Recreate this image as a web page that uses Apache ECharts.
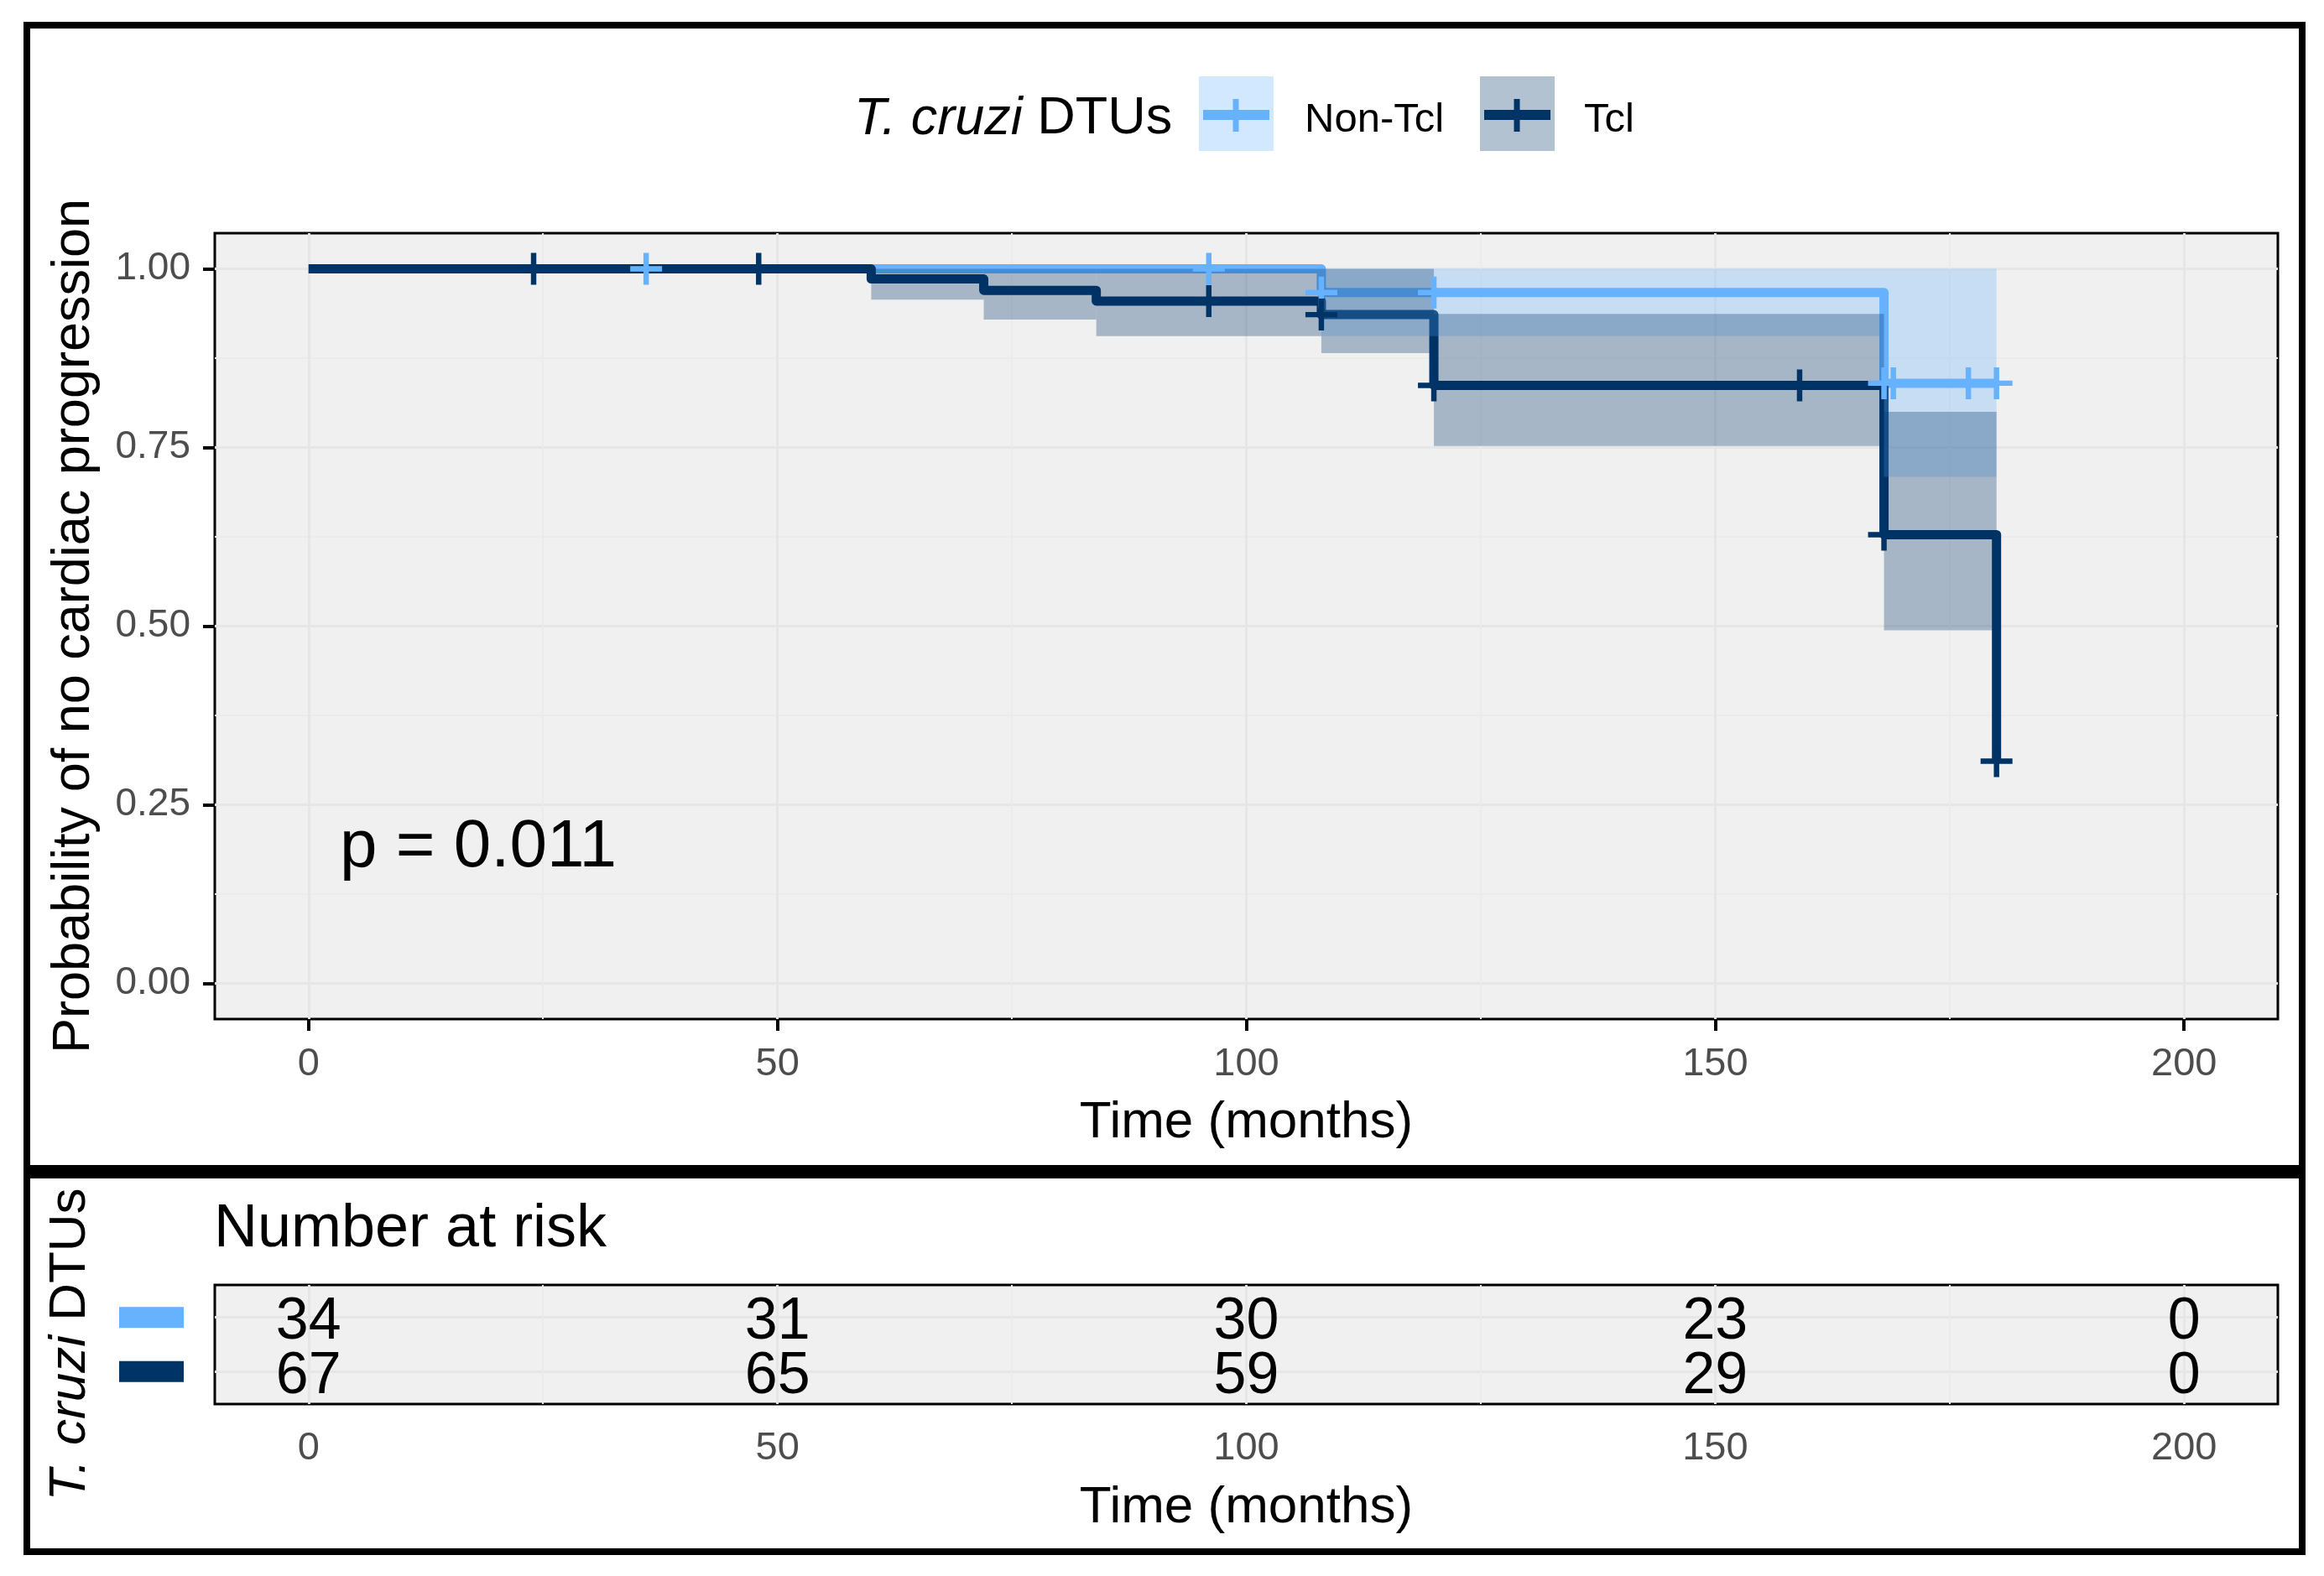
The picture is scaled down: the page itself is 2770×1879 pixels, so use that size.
<!DOCTYPE html>
<html><head><meta charset="utf-8">
<script src="https://cdn.jsdelivr.net/npm/echarts@6/dist/echarts.min.js"></script>
<style>html,body{margin:0;padding:0;background:#fff}#c{width:2770px;height:1879px}</style>
</head><body><div id="c"></div>
<script>
// ---------- data ----------
const groups = ['Non-Tcl', 'Tcl'];
const groupColors = ['#66B2FF', '#003366'];
// Kaplan-Meier step points [time (months), survival]
const nonTclCurve = [[0, 1], [108, 0.967], [168, 0.840], [180, 0.840]];
const tclCurve = [[0, 1], [60, 0.986], [72, 0.970], [84, 0.955], [108, 0.936], [120, 0.837], [168, 0.628], [180, 0.311]];
// censored observations [time, survival]
const nonTclCensor = [[36, 1], [96, 1], [108, 0.967], [120, 0.967], [168, 0.840], [169, 0.840], [177, 0.840], [180, 0.840]];
const tclCensor = [[24, 1], [48, 1], [96, 0.955], [108, 0.936], [120, 0.837], [159, 0.837], [168, 0.628], [180, 0.311]];
// confidence bands [start, end, lower, upper]
const nonTclBand = [[108, 168, 0.906, 1], [168, 180, 0.709, 1]];
const tclBand = [[60, 72, 0.957, 1], [72, 84, 0.929, 1], [84, 108, 0.906, 1], [108, 120, 0.882, 1], [120, 168, 0.752, 0.937], [168, 180, 0.494, 0.800]];
// number at risk
const riskTimes = [0, 50, 100, 150, 200];
const nonTclRisk = [34, 31, 30, 23, 0];
const tclRisk = [67, 65, 59, 29, 0];
// ticks
const xTicks = [0, 50, 100, 150, 200];
const xMinorTicks = [25, 75, 125, 175];
const yTicks = [0, 0.25, 0.5, 0.75, 1];
const yMinorTicks = [0.125, 0.375, 0.625, 0.875];
const riskRows = [1, 2];
const pValueText = 'p = 0.011';

// ---------- styling ----------
const FONT = 'Liberation Sans, Arial, Helvetica, sans-serif';
const bandColors = ['rgba(102,178,255,0.3)', 'rgba(0,51,102,0.3)'];
const keyFill = ['#d1e8ff', '#b3c2d1'];
const majorGrid = { color: '#e6e6e6', width: 3 };
const minorGrid = { color: '#ebebeb', width: 2 };

function bandRender(color) {
  return function (params, api) {
    const p0 = api.coord([api.value(0), api.value(3)]);
    const p1 = api.coord([api.value(1), api.value(2)]);
    return { type: 'rect', shape: { x: p0[0], y: p0[1], width: p1[0] - p0[0], height: p1[1] - p0[1] }, style: { fill: color } };
  };
}
function riskRender(params, api) {
  const p = api.coord([api.value(0), api.value(1)]);
  return { type: 'text', x: p[0], y: p[1] + 6, style: { text: String(api.value(2)), fontSize: 70, fontFamily: FONT, fill: '#000', align: 'center', verticalAlign: 'middle' } };
}
const plusPath = 'path://M41.5,0H58.5V41.5H100V58.5H58.5V100H41.5V58.5H0V41.5H41.5Z';

const riskData = [];
riskTimes.forEach((t, i) => { riskData.push([t, riskRows[0], nonTclRisk[i]]); riskData.push([t, riskRows[1], tclRisk[i]]); });

function majorX(grid, withTicks, name, gap, margin) {
  return {
    gridIndex: grid, type: 'value', min: -10, max: 210, position: 'bottom',
    axisLine: { show: false, onZero: false },
    axisTick: { show: withTicks, customValues: xTicks, length: 14, lineStyle: { color: '#000', width: 4 } },
    axisLabel: { customValues: xTicks, margin: margin, fontSize: 47, color: '#4d4d4d', fontFamily: FONT },
    splitLine: { show: true, lineStyle: majorGrid },
    name: name, nameLocation: 'middle', nameGap: gap,
    nameTextStyle: { fontSize: 62, color: '#000', fontFamily: FONT }
  };
}
function minorX(grid) {
  return {
    gridIndex: grid, type: 'value', min: -10, max: 210, position: 'bottom',
    axisLine: { show: false, onZero: false }, axisTick: { show: false, customValues: xMinorTicks }, axisLabel: { show: false },
    splitLine: { show: true, lineStyle: minorGrid }
  };
}

const option = {
  animation: false,
  backgroundColor: '#ffffff',
  grid: [
    { left: 256, top: 278, width: 2459, height: 937, show: true, backgroundColor: '#f0f0f0', borderColor: '#000', borderWidth: 3 },
    { left: 256, top: 1532, width: 2459, height: 142, show: true, backgroundColor: '#f0f0f0', borderColor: '#000', borderWidth: 3 }
  ],
  xAxis: [majorX(0, true, 'Time (months)', 93, 31), minorX(0), majorX(1, false, 'Time (months)', 93, 30), minorX(1)],
  yAxis: [
    {
      gridIndex: 0, type: 'value', min: -0.05, max: 1.05, position: 'left',
      axisLine: { show: false, onZero: false },
      axisTick: { show: true, customValues: yTicks, length: 14, lineStyle: { color: '#000', width: 4 } },
      axisLabel: { customValues: yTicks, formatter: v => Number(v).toFixed(2), margin: 29, padding: [7, 0, 0, 0], fontSize: 46, color: '#4d4d4d', fontFamily: FONT },
      splitLine: { show: true, lineStyle: majorGrid },
      name: 'Probability of no cardiac progression', nameLocation: 'middle', nameRotate: 90, nameGap: 136,
      nameTextStyle: { fontSize: 63, color: '#000', fontFamily: FONT }
    },
    {
      gridIndex: 0, type: 'value', min: -0.05, max: 1.05, position: 'left',
      axisLine: { show: false, onZero: false }, axisTick: { show: false, customValues: yMinorTicks }, axisLabel: { show: false },
      splitLine: { show: true, lineStyle: minorGrid }
    },
    {
      gridIndex: 1, type: 'value', min: 0.4, max: 2.6, inverse: true, position: 'left',
      axisLine: { show: false, onZero: false },
      axisTick: { show: false, customValues: riskRows },
      axisLabel: {
        customValues: riskRows, margin: 37,
        formatter: v => (Number(v) === riskRows[0] ? '{a| }' : '{b| }'),
        rich: {
          a: { width: 77, height: 25, backgroundColor: groupColors[0] },
          b: { width: 77, height: 25, backgroundColor: groupColors[1] }
        }
      },
      splitLine: { show: true, lineStyle: majorGrid },
      name: '{i|T. cruzi} DTUs', nameLocation: 'middle', nameRotate: 90, nameGap: 141,
      nameTextStyle: { fontSize: 62, color: '#000', fontFamily: FONT, rich: { i: { fontStyle: 'italic', fontSize: 62, color: '#000', fontFamily: FONT } } }
    }
  ],
  series: [
    { name: groups[0], type: 'line', xAxisIndex: 0, yAxisIndex: 0, step: 'end', data: nonTclCurve, symbol: 'none', z: 2,
      lineStyle: { color: groupColors[0], width: 11, join: 'round' } },
    { name: groups[1], type: 'line', xAxisIndex: 0, yAxisIndex: 0, step: 'end', data: tclCurve, symbol: 'none', z: 3,
      lineStyle: { color: groupColors[1], width: 11, join: 'round' } },
    { name: groups[0] + ' CI', type: 'custom', xAxisIndex: 0, yAxisIndex: 0, data: nonTclBand, renderItem: bandRender(bandColors[0]),
      encode: { x: [0, 1], y: [2, 3] }, z: 4, silent: true },
    { name: groups[1] + ' CI', type: 'custom', xAxisIndex: 0, yAxisIndex: 0, data: tclBand, renderItem: bandRender(bandColors[1]),
      encode: { x: [0, 1], y: [2, 3] }, z: 5, silent: true },
    { name: groups[0] + ' censored', type: 'scatter', xAxisIndex: 0, yAxisIndex: 0, data: nonTclCensor, symbol: plusPath, symbolSize: 38,
      itemStyle: { color: groupColors[0], opacity: 1 }, z: 6 },
    { name: groups[1] + ' censored', type: 'scatter', xAxisIndex: 0, yAxisIndex: 0, data: tclCensor, symbol: plusPath, symbolSize: 38,
      itemStyle: { color: groupColors[1], opacity: 1 }, z: 7 },
    { name: 'Number at risk', type: 'custom', xAxisIndex: 2, yAxisIndex: 2, data: riskData, renderItem: riskRender,
      encode: { x: 0, y: 1 }, z: 5 }
  ],
  graphic: [
    { type: 'rect', z: 100, shape: { x: 32, y: 30, width: 2712, height: 1363 }, style: { fill: 'none', stroke: '#000', lineWidth: 8 } },
    { type: 'rect', z: 100, shape: { x: 32, y: 1401, width: 2712, height: 449 }, style: { fill: 'none', stroke: '#000', lineWidth: 8 } },
    { type: 'text', z: 100, x: 405, y: 1011, style: { text: pValueText, fontSize: 80, fontFamily: FONT, fill: '#000', align: 'left', verticalAlign: 'middle' } },
    { type: 'text', z: 100, x: 255, y: 1466, style: { text: 'Number at risk', fontSize: 72, fontFamily: FONT, fill: '#000', align: 'left', verticalAlign: 'middle' } },
    // legend
    { type: 'text', z: 100, x: 1018, y: 142, style: { text: '{i|T. cruzi} DTUs', fontSize: 63, fontFamily: FONT, fill: '#000', align: 'left', verticalAlign: 'middle',
      rich: { i: { fontStyle: 'italic', fontSize: 63, fontFamily: FONT, fill: '#000' } } } },
    { type: 'rect', z: 100, shape: { x: 1429, y: 91, width: 89, height: 89 }, style: { fill: keyFill[0] } },
    { type: 'line', z: 101, shape: { x1: 1434, y1: 137, x2: 1513, y2: 137 }, style: { stroke: groupColors[0], lineWidth: 12 } },
    { type: 'line', z: 101, shape: { x1: 1473, y1: 118, x2: 1473, y2: 157 }, style: { stroke: groupColors[0], lineWidth: 7 } },
    { type: 'text', z: 100, x: 1555, y: 143, style: { text: groups[0], fontSize: 49, fontFamily: FONT, fill: '#000', align: 'left', verticalAlign: 'middle' } },
    { type: 'rect', z: 100, shape: { x: 1764, y: 91, width: 89, height: 89 }, style: { fill: keyFill[1] } },
    { type: 'line', z: 101, shape: { x1: 1769, y1: 137, x2: 1848, y2: 137 }, style: { stroke: groupColors[1], lineWidth: 12 } },
    { type: 'line', z: 101, shape: { x1: 1808, y1: 118, x2: 1808, y2: 157 }, style: { stroke: groupColors[1], lineWidth: 7 } },
    { type: 'text', z: 100, x: 1888, y: 143, style: { text: groups[1], fontSize: 49, fontFamily: FONT, fill: '#000', align: 'left', verticalAlign: 'middle' } }
  ]
};
const chart = echarts.init(document.getElementById('c'), null, { renderer: 'canvas' });
chart.setOption(option);
</script></body></html>
